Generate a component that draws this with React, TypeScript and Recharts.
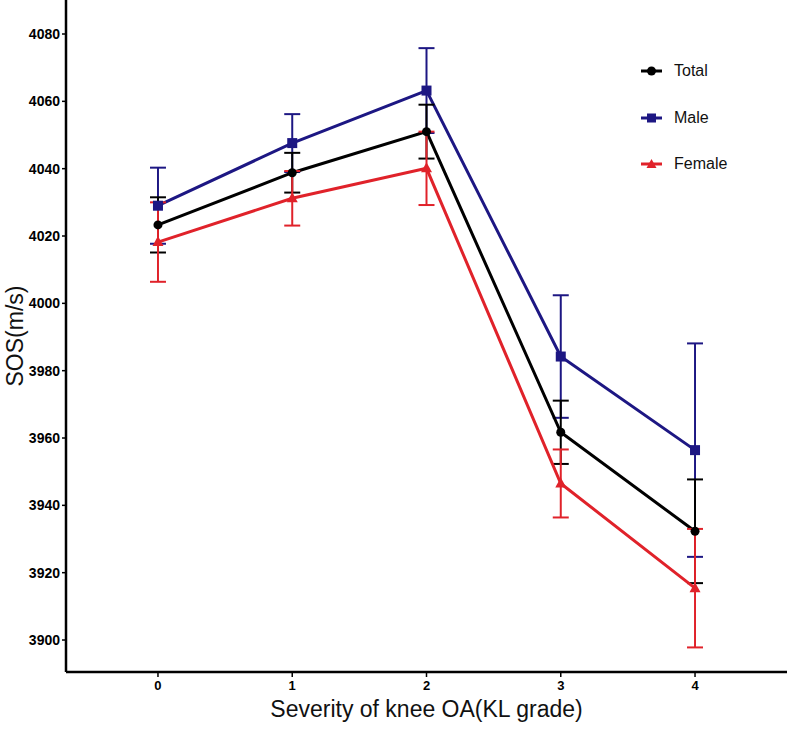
import React from "react";
import { LineChart, Line, XAxis, YAxis, ErrorBar } from "recharts";

const grades = [0, 1, 2, 3, 4];
const totalSos = [4023.3, 4038.8, 4051.0, 3961.7, 3932.3];
const totalErr = [8.2, 5.9, 8.0, 9.4, 15.4];
const maleSos = [4029.0, 4047.6, 4063.2, 3984.2, 3956.4];
const maleErr = [11.3, 8.6, 12.6, 18.2, 31.7];
const femaleSos = [4018.2, 4031.2, 4040.1, 3946.5, 3915.4];
const femaleErr = [11.8, 8.1, 10.9, 10.1, 17.6];
const yTicks = [3900, 3920, 3940, 3960, 3980, 4000, 4020, 4040, 4060, 4080];

const TOTAL_C = "#000000";
const MALE_C = "#1d1783";
const FEMALE_C = "#e0222a";

const rows = grades.map((g, i) => ({
  grade: g,
  total: totalSos[i],
  totalErr: totalErr[i],
  male: maleSos[i],
  maleErr: maleErr[i],
  female: femaleSos[i],
  femaleErr: femaleErr[i],
}));

const FONT = "'Liberation Sans', Arial, sans-serif";

const SquareDot = (p: any) => (
  <rect key={p.index} x={p.cx - 5} y={p.cy - 5} width={10} height={10} fill={MALE_C} />
);

const TriDot = (p: any) => (
  <path
    key={p.index}
    d={`M${p.cx},${p.cy - 6} L${p.cx + 5.5},${p.cy + 4} L${p.cx - 5.5},${p.cy + 4} Z`}
    fill={FEMALE_C}
  />
);

const legendItems = [
  { name: "Total", color: TOTAL_C, kind: "circle" },
  { name: "Male", color: MALE_C, kind: "square" },
  { name: "Female", color: FEMALE_C, kind: "tri" },
];

// legend drawn as a plain overlay so it doesn't eat plot width
function LegendBox() {
  return (
    <div
      style={{
        position: "absolute",
        left: 640,
        top: 48,
        fontFamily: FONT,
        fontSize: 16,
        color: "#111",
      }}
    >
      {legendItems.map((it) => (
        <div key={it.name} style={{ display: "flex", alignItems: "center", height: 46.5 }}>
          <svg width={24} height={14} style={{ marginRight: 10 }}>
            <line x1={1} y1={7} x2={22} y2={7} stroke={it.color} strokeWidth={3} />
            {it.kind === "circle" && <circle cx={11.5} cy={7} r={4.5} fill={it.color} />}
            {it.kind === "square" && <rect x={7} y={2.5} width={9} height={9} fill={it.color} />}
            {it.kind === "tri" && <path d="M11.5,2 L16.5,11 L6.5,11 Z" fill={it.color} />}
          </svg>
          <span>{it.name}</span>
        </div>
      ))}
    </div>
  );
}

export default function App() {
  return (
    <div style={{ position: "absolute", left: 0, top: 0, width: 787, height: 731, background: "#fff" }}>
      <LineChart
        width={787}
        height={731}
        data={rows}
        margin={{ top: 0, right: 0, bottom: 0, left: 0 }}
      >
        <XAxis
          type="number"
          dataKey="grade"
          domain={[-0.685, 4.685]}
          ticks={grades}
          allowDataOverflow
          height={59}
          axisLine={{ stroke: "#000", strokeWidth: 2.5 }}
          tickLine={{ stroke: "#000", strokeWidth: 1.5 }}
          tickSize={5}
          tickMargin={4}
          tick={{ fill: "#000", fontSize: 13, fontWeight: 700, fontFamily: FONT }}
          label={{
            value: "Severity of knee OA(KL grade)",
            position: "insideBottom",
            offset: 14,
            fill: "#111",
            fontSize: 23,
            fontFamily: FONT,
          }}
        />
        <YAxis
          type="number"
          domain={[3890.5, 4090.1]}
          ticks={yTicks}
          allowDataOverflow
          width={66}
          axisLine={{ stroke: "#000", strokeWidth: 2.5 }}
          tickLine={{ stroke: "#000", strokeWidth: 1.5 }}
          tickSize={4}
          tickMargin={2}
          tick={{ fill: "#000", fontSize: 14, fontWeight: 700, fontFamily: FONT }}
          label={{
            value: "SOS(m/s)",
            angle: -90,
            position: "insideLeft",
            offset: 15,
            style: { textAnchor: "middle" },
            fill: "#111",
            fontSize: 23,
            fontFamily: FONT,
          }}
        />
        <Line
          dataKey="male"
          stroke={MALE_C}
          strokeWidth={3}
          dot={SquareDot}
          activeDot={false}
          isAnimationActive={false}
        >
          <ErrorBar dataKey="maleErr" width={8} strokeWidth={2} stroke={MALE_C} direction="y" />
        </Line>
        <Line
          dataKey="total"
          stroke={TOTAL_C}
          strokeWidth={3}
          dot={{ r: 4.5, fill: TOTAL_C, stroke: TOTAL_C, strokeWidth: 0 }}
          activeDot={false}
          isAnimationActive={false}
        >
          <ErrorBar dataKey="totalErr" width={8} strokeWidth={2} stroke={TOTAL_C} direction="y" />
        </Line>
        <Line
          dataKey="female"
          stroke={FEMALE_C}
          strokeWidth={3}
          dot={TriDot}
          activeDot={false}
          isAnimationActive={false}
        >
          <ErrorBar dataKey="femaleErr" width={8} strokeWidth={2} stroke={FEMALE_C} direction="y" />
        </Line>
      </LineChart>
      <LegendBox />
    </div>
  );
}
